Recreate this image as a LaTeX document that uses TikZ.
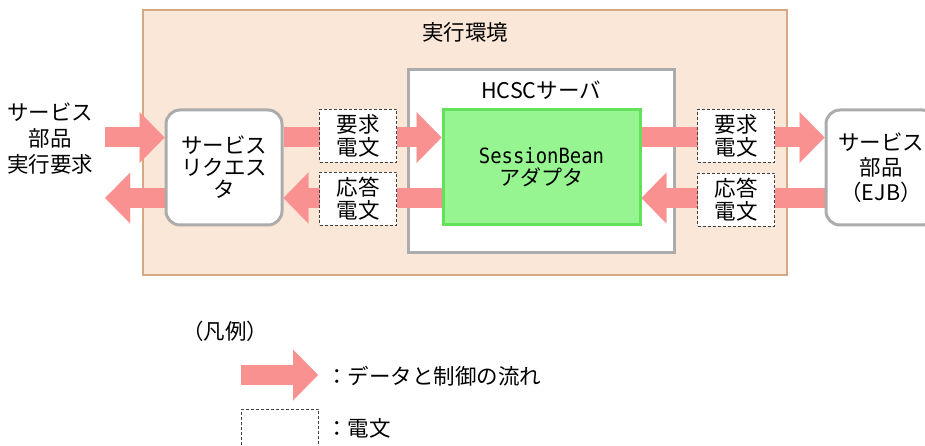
\documentclass[tikz,border=0pt]{standalone}
\usepackage{fontspec}
\setmainfont{Noto Sans CJK JP}
\newfontfamily\adapterfont[FakeStretch=0.9]{DejaVu Sans Mono}
\usetikzlibrary{arrows.meta,positioning}
\definecolor{EnvFill}{RGB}{250,231,215}
\definecolor{EnvLine}{RGB}{214,168,132}
\definecolor{BoxGray}{RGB}{172,172,172}
\definecolor{FlowPink}{RGB}{250,145,145}
\definecolor{AdapterGreen}{RGB}{150,245,145}
\definecolor{AdapterLine}{RGB}{100,225,90}
\pgfdeclarelayer{bg}
\pgfdeclarelayer{mid}
\pgfsetlayers{bg,mid,main}
\tikzset{
  jptext/.style={font=\fontsize{21.5}{26}\selectfont,align=center},
  envbox/.style={draw=EnvLine,line width=1.2pt,fill=EnvFill,
    minimum width=644pt,minimum height=265pt},
  serverbox/.style={draw=BoxGray,line width=3pt,fill=white,
    minimum width=266pt,minimum height=182pt},
  adapterbox/.style={draw=AdapterLine,line width=3pt,fill=AdapterGreen,
    minimum width=197pt,minimum height=115pt,align=center,
    font=\fontsize{21}{22}\selectfont},
  partbox/.style={draw=BoxGray,line width=3pt,fill=white,rounded corners=14pt,
    minimum height=115pt,align=center},
  msgbox/.style={draw=black!75,densely dashed,line width=0.6pt,fill=white,
    minimum width=77pt,minimum height=53pt,align=center,
    font=\fontsize{21.5}{23}\selectfont},
  flowarrow/.style={draw=FlowPink,line width=20pt,
    -{Triangle[length=25pt,width=51pt,line width=0.1pt]}},
}

\begin{document}
\begin{tikzpicture}[x=1pt,y=-1pt]
  \useasboundingbox (0,0) rectangle (925,446);
  % frames
  \begin{pgfonlayer}{bg}
    \node[envbox] (env) at (465,142.5) {};
    \node[serverbox] (server) at (541,161) {};
  \end{pgfonlayer}
  \node[jptext] (envtitle) at (465,32) {実行環境};
  \node[jptext] (servertitle) at (541,90) {HCSCサーバ};
  % parts
  \node[jptext,minimum width=110pt] (caller) at (50,139) {サービス\\部品\\実行要求};
  \node[partbox,minimum width=116pt,font=\fontsize{21.5}{22}\selectfont] (req) at (224,167.5)
    {サービス\\リクエス\\タ};
  \node[adapterbox] (adapter) at (541.5,167.5) {{\adapterfont SessionBean}\\アダプタ};
  \node[partbox,minimum width=110pt,font=\fontsize{21.5}{25}\selectfont] (svc) at (881,167.5)
    {サービス\\部品\\（EJB）};
  \node[msgbox] (reqmsgL) at (358,135.5) {要求\\電文};
  \node[msgbox] (resmsgL) at (358,198.5) {応答\\電文};
  \node[msgbox] (reqmsgR) at (736,135.5) {要求\\電文};
  \node[msgbox] (resmsgR) at (736,199.5) {応答\\電文};
  % legend
  \node[jptext] (legend) at (225,331) {（凡例）};
  \coordinate (keystart) at (241,375);
  \coordinate (keyend) at (318,375);
  \node[jptext,anchor=west,inner sep=0pt] (flowkey) at (326,376) {：データと制御の流れ};
  \node[msgbox] (msgkey) at (280,435.5) {};
  \node[jptext,anchor=west,inner sep=0pt] (msgkeytext) at (326,428.5) {：電文};
  % flows
  \coordinate (reqin) at ([yshift=30pt]req.west);
  \coordinate (reqback) at ([yshift=-30.5pt]req.west);
  \begin{pgfonlayer}{mid}
    \draw[flowarrow] (caller.east |- reqin) -- (reqin);
    \draw[flowarrow] ([yshift=30pt]req.east) -- ([yshift=30pt]adapter.west);
    \draw[flowarrow] ([yshift=30pt]adapter.east) -- ([yshift=30pt]svc.west);
    \draw[flowarrow] ([yshift=-30.5pt]svc.west) -- ([yshift=-30.5pt]adapter.east);
    \draw[flowarrow] ([yshift=-30.5pt]adapter.west) -- ([yshift=-30.5pt]req.east);
    \draw[flowarrow] (reqback) -- (caller.east |- reqback);
    \draw[flowarrow] (keystart) -- (keyend);
  \end{pgfonlayer}
\end{tikzpicture}
\end{document}
